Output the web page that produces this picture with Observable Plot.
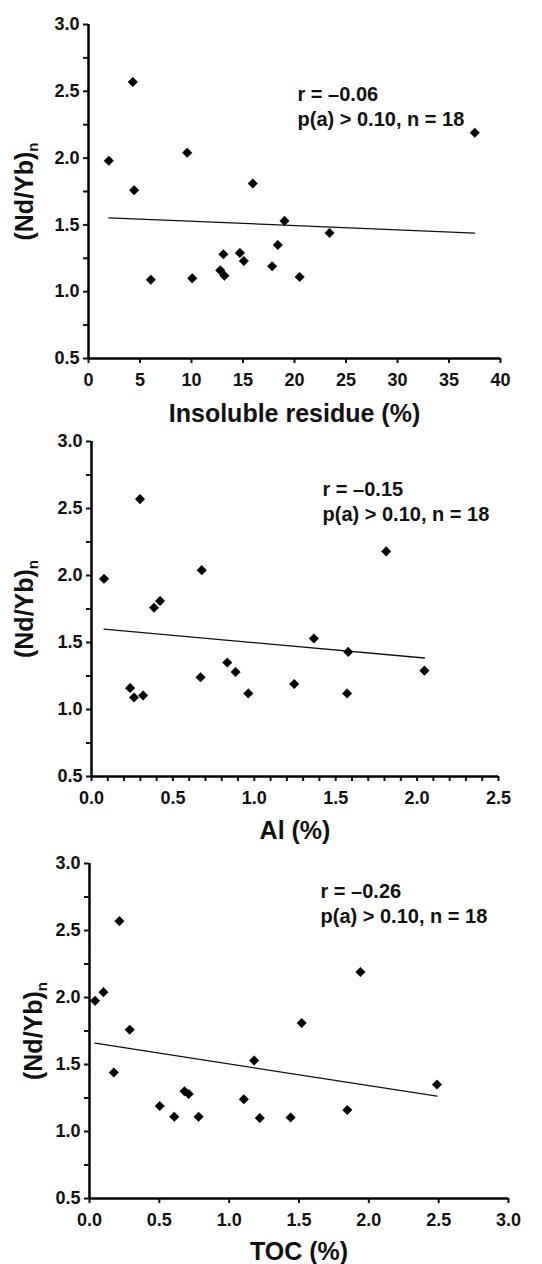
<!DOCTYPE html>
<html>
<head>
<meta charset="utf-8">
<script src="https://cdn.jsdelivr.net/npm/d3@7"></script>
<script src="https://cdn.jsdelivr.net/npm/@observablehq/plot@0.6"></script>
<style>
  html, body { margin: 0; padding: 0; background: white; }
  #chart > div { display: block; }
  svg { display: block; }
</style>
</head>
<body>
<div id="chart"></div>
<script>
// ---- Data ----
// Panel 1: Insoluble residue (%) vs (Nd/Yb)n
const insolubleResidue = [4.3, 1.97, 4.43, 9.58, 15.95, 37.5, 19.03, 23.4, 6.05, 10.07, 13.1, 12.79, 13.2, 14.7, 15.08, 18.38, 17.83, 20.5];
const ndybIR = [2.57, 1.98, 1.76, 2.04, 1.81, 2.19, 1.53, 1.44, 1.09, 1.10, 1.28, 1.16, 1.12, 1.29, 1.23, 1.35, 1.19, 1.11];

// Panel 2: Al (%) vs (Nd/Yb)n
const aluminium = [0.298, 0.077, 0.384, 0.421, 0.677, 1.81, 1.366, 1.577, 2.045, 1.57, 0.963, 1.245, 0.834, 0.885, 0.67, 0.237, 0.261, 0.317];
const ndybAl = [2.57, 1.975, 1.76, 1.81, 2.04, 2.18, 1.53, 1.43, 1.29, 1.12, 1.12, 1.19, 1.35, 1.28, 1.24, 1.16, 1.09, 1.105];

// Panel 3: TOC (%) vs (Nd/Yb)n
const toc = [0.214, 0.04, 0.1, 1.94, 1.519, 0.288, 0.174, 1.179, 0.68, 0.71, 2.488, 0.503, 0.607, 0.781, 1.105, 1.219, 1.44, 1.846];
const ndybTOC = [2.57, 1.975, 2.04, 2.19, 1.81, 1.76, 1.44, 1.53, 1.30, 1.28, 1.35, 1.19, 1.11, 1.11, 1.24, 1.10, 1.105, 1.16];

// Axis labels, ticks, annotations
const xTitles = ["Insoluble residue (%)", "Al (%)", "TOC (%)"];
const yTitle = "(Nd/Yb)";
const yTitleSub = "n";
const annotations = [
  "r = \u20130.06\np(a) > 0.10, n = 18",
  "r = \u20130.15\np(a) > 0.10, n = 18",
  "r = \u20130.26\np(a) > 0.10, n = 18"
];
const yDomain = [0.5, 3.0];
const yMajorTicks = [0.5, 1.0, 1.5, 2.0, 2.5, 3.0];
const yMinorTicks = [0.75, 1.25, 1.75, 2.25, 2.75];
const xDomains = [[0, 40], [0, 2.5], [0, 3.0]];
const xMajorTicks = [
  [0, 5, 10, 15, 20, 25, 30, 35, 40],
  [0, 0.5, 1.0, 1.5, 2.0, 2.5],
  [0, 0.5, 1.0, 1.5, 2.0, 2.5, 3.0]
];
const xMinorTicks = [
  [],
  [0.1,0.2,0.3,0.4,0.6,0.7,0.8,0.9,1.1,1.2,1.3,1.4,1.6,1.7,1.8,1.9,2.1,2.2,2.3,2.4],
  []
];
const xTickFormats = [d3.format("d"), d3.format(".1f"), d3.format(".1f")];

// ---- Layout per panel ----
const layouts = [
  {height: 428, mt: 24, mb: 70, ml: 88, mr: 42, ytdx: -64, adx: 209, ady: 59, tdy: 46},
  {height: 422, mt: 13, mb: 74, ml: 91, mr: 44, ytdx: -67, adx: 231, ady: 37, tdy: 45},
  {height: 414, mt: 13, mb: 66, ml: 89, mr: 34, ytdx: -56, adx: 231, ady: 17, tdy: 44}
];

const panels = [
  {xs: insolubleResidue, ys: ndybIR},
  {xs: aluminium, ys: ndybAl},
  {xs: toc, ys: ndybTOC}
];

const container = document.getElementById("chart");
const FONT = "'Liberation Sans', Arial, Helvetica, sans-serif";
const TICK_FS = 18;

panels.forEach((p, i) => {
  const L = layouts[i];
  const data = p.xs.map((x, k) => ({x, y: p.ys[k]}));
  const svg = Plot.plot({
    width: 542,
    height: L.height,
    marginTop: L.mt,
    marginBottom: L.mb,
    marginLeft: L.ml,
    marginRight: L.mr,
    style: {fontFamily: FONT, fontSize: TICK_FS + "px", fontWeight: "bold", color: "#111", background: "white", overflow: "visible"},
    x: {domain: xDomains[i], label: null},
    y: {domain: yDomain, label: null},
    marks: [
      Plot.axisY({ticks: yMajorTicks, tickSize: 5, tickPadding: 4, tickFormat: d3.format(".1f"), label: null, strokeWidth: 2, fontSize: TICK_FS, fontWeight: "bold"}),
      Plot.axisY({ticks: yMinorTicks, tickSize: 5, tickFormat: () => "", label: null, strokeWidth: 2}),
      Plot.axisX({ticks: xMajorTicks[i], tickSize: 5, tickPadding: 10, tickFormat: xTickFormats[i], label: null, strokeWidth: 2, fontSize: TICK_FS, fontWeight: "bold"}),
      ...(xMinorTicks[i].length ? [Plot.axisX({ticks: xMinorTicks[i], tickSize: 5, tickFormat: () => "", label: null, strokeWidth: 2})] : []),
      Plot.ruleX([xDomains[i][0]], {stroke: "black", strokeWidth: 2.5}),
      Plot.ruleY([yDomain[0]], {stroke: "black", strokeWidth: 2.5}),
      Plot.linearRegressionY(data, {x: "x", y: "y", ci: 0, stroke: "#111", strokeWidth: 1.3}),
      Plot.dot(data, {x: "x", y: "y", symbol: "diamond2", r: 4.3, fill: "black", stroke: "black", strokeWidth: 0.5}),
      Plot.text([annotations[i]], {frameAnchor: "top-left", text: d => d, dx: L.adx, dy: L.ady, textAnchor: "start", lineAnchor: "top", lineHeight: 1.25, fontSize: 20, fontWeight: "bold", fill: "#111"}),
      Plot.text([xTitles[i]], {frameAnchor: "bottom", text: d => d, dy: L.tdy, textAnchor: "middle", lineAnchor: "top", fontSize: 25, fontWeight: "bold", fill: "#111"}),
      Plot.text([yTitle], {frameAnchor: "left", text: d => d, dx: L.ytdx, rotate: -90, textAnchor: "middle", lineAnchor: "middle", fontSize: 25, fontWeight: "bold", fill: "#111"})
    ]
  });
  // add subscript "n" to the y title as a tspan
  d3.select(svg).selectAll("text")
    .filter(function() { return this.textContent === yTitle; })
    .each(function() {
      const t = d3.select(this);
      t.append("tspan").attr("font-size", 15).attr("dy", "0.35em").text(yTitleSub);
    });
  const wrap = document.createElement("div");
  wrap.appendChild(svg);
  container.appendChild(wrap);
});
</script>
</body>
</html>
